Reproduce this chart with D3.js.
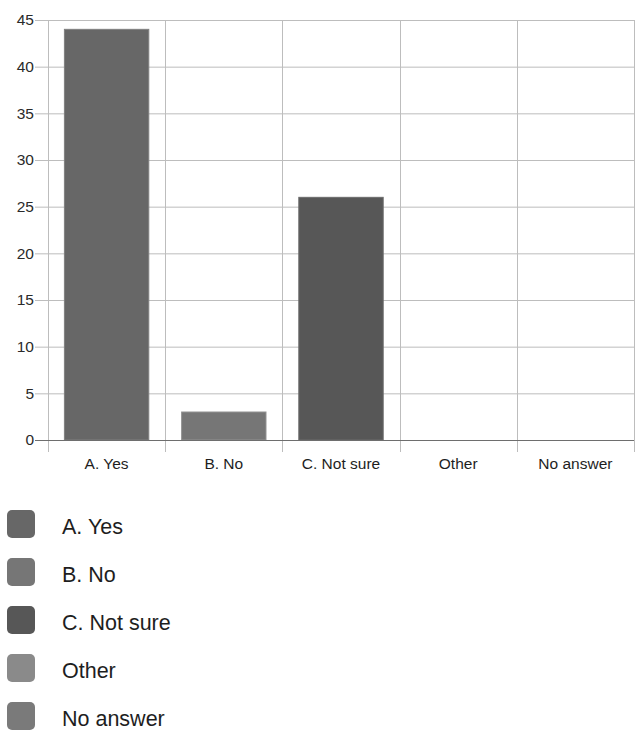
<!DOCTYPE html>
<html>
<head>
<meta charset="utf-8">
<script src="https://cdn.jsdelivr.net/npm/d3@7"></script>
<style>
  html, body { margin: 0; padding: 0; background: #fff; }
  svg { display: block; }
</style>
</head>
<body>
<div id="chart"></div>
<script>
// Survey answers and their counts
const categories = ["A. Yes", "B. No", "C. Not sure", "Other", "No answer"];
const counts = [44, 3, 26, 0, 0];
const colors = ["#676767", "#767676", "#575757", "#8a8a8a", "#7a7a7a"];
const yTicks = [0, 5, 10, 15, 20, 25, 30, 35, 40, 45];

const W = 638, H = 731;
const margin = { left: 48, right: 4, top: 20 };
const plotBottom = 440;

const svg = d3.select("#chart").append("svg")
  .attr("width", W).attr("height", H);

const x = d3.scaleBand()
  .domain(categories)
  .range([margin.left, W - margin.right])
  .paddingInner(0)
  .paddingOuter(0);

const y = d3.scaleLinear()
  .domain([0, 45])
  .range([plotBottom, margin.top]);

// horizontal grid lines with short tick stubs on the left
svg.append("g")
  .selectAll("line")
  .data(yTicks)
  .join("line")
  .attr("x1", 35).attr("x2", W - margin.right)
  .attr("y1", d => y(d) + 0.5).attr("y2", d => y(d) + 0.5)
  .attr("stroke", d => d === 0 ? "#6e6e6e" : "#bdbdbd")
  .attr("stroke-width", 1);

// vertical grid lines at band edges, extending below the axis
const edges = categories.map(c => x(c)).concat([x(categories[categories.length - 1]) + x.bandwidth()]);
svg.append("g")
  .selectAll("line")
  .data(edges)
  .join("line")
  .attr("x1", d => Math.round(d) + 0.5).attr("x2", d => Math.round(d) + 0.5)
  .attr("y1", margin.top).attr("y2", plotBottom + 12)
  .attr("stroke", "#bdbdbd")
  .attr("stroke-width", 1);

// y tick labels
svg.append("g")
  .selectAll("text")
  .data(yTicks)
  .join("text")
  .attr("x", 34)
  .attr("y", d => y(d))
  .attr("dy", "0.35em")
  .attr("text-anchor", "end")
  .attr("font-family", "Liberation Sans, Arial, sans-serif")
  .attr("font-size", 15.5)
  .attr("fill", "#2a2a2a")
  .text(d => d);

// bars
const barW = x.bandwidth() * 0.72;
svg.append("g")
  .selectAll("rect")
  .data(categories.map((c, i) => ({ c, v: counts[i], col: colors[i] })).filter(d => d.v > 0))
  .join("rect")
  .attr("x", d => x(d.c) + (x.bandwidth() - barW) / 2)
  .attr("y", d => y(d.v))
  .attr("width", barW)
  .attr("height", d => y(0) - y(d.v))
  .attr("fill", d => d.col)
  .attr("stroke", d => d3.color(d.col).brighter(0.6))
  .attr("stroke-width", 1);

// redraw baseline over bars
svg.append("line")
  .attr("x1", margin.left).attr("x2", W - margin.right)
  .attr("y1", plotBottom + 0.5).attr("y2", plotBottom + 0.5)
  .attr("stroke", "#6e6e6e");

// x category labels
svg.append("g")
  .selectAll("text")
  .data(categories)
  .join("text")
  .attr("x", d => x(d) + x.bandwidth() / 2)
  .attr("y", 469)
  .attr("text-anchor", "middle")
  .attr("font-family", "Liberation Sans, Arial, sans-serif")
  .attr("font-size", 15.5)
  .attr("fill", "#1e1e1e")
  .text(d => d);

// legend
const legend = svg.append("g")
  .selectAll("g")
  .data(categories.map((c, i) => ({ c, col: colors[i] })))
  .join("g")
  .attr("transform", (d, i) => `translate(7, ${510 + i * 48})`);

legend.append("rect")
  .attr("width", 28).attr("height", 28)
  .attr("rx", 5).attr("ry", 5)
  .attr("fill", d => d.col);

legend.append("text")
  .attr("x", 55)
  .attr("y", 24)
  .attr("font-family", "Liberation Sans, Arial, sans-serif")
  .attr("font-size", 21.5)
  .attr("fill", "#1e1e1e")
  .text(d => d.c);
</script>
</body>
</html>
